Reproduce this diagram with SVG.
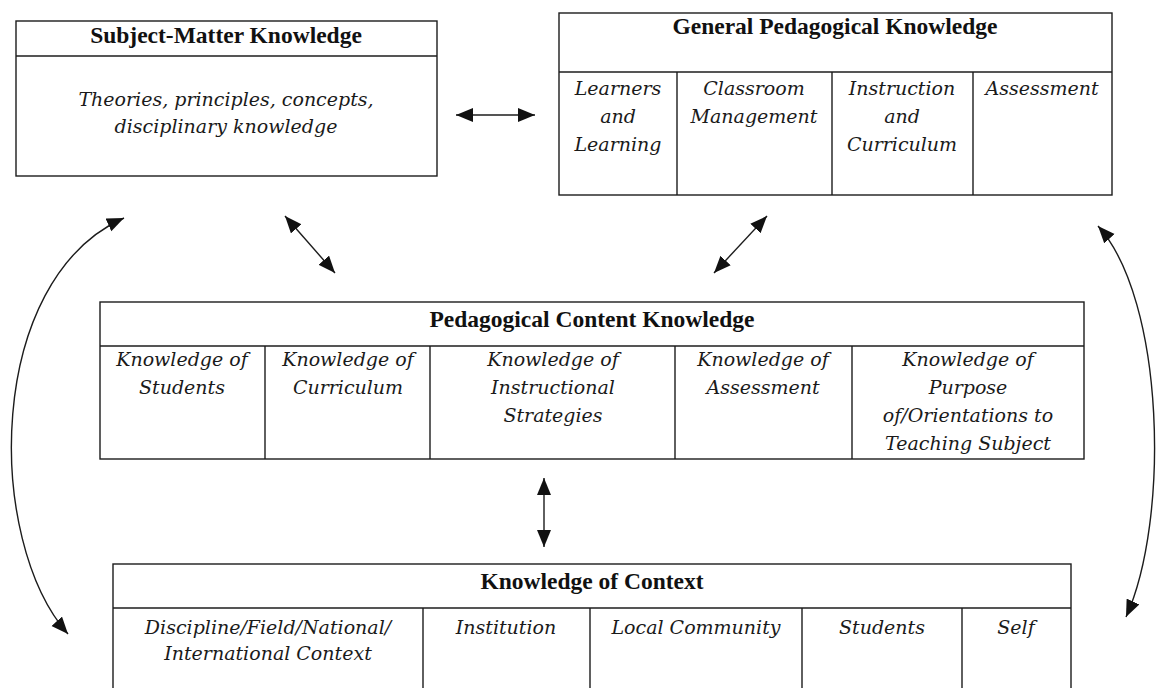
<svg xmlns="http://www.w3.org/2000/svg" width="1156" height="688" viewBox="0 0 1156 688">
  <style>
    .box { fill: #ffffff; stroke: #1c1c1c; stroke-width: 1.4; }
    .rule { stroke: #1c1c1c; stroke-width: 1.4; fill: none; }
    .title { font-family: "Liberation Serif", "Times New Roman", serif; font-weight: bold; font-size: 23.5px; fill: #111; text-anchor: middle; }
    .item { font-family: "DejaVu Serif", "Liberation Serif", serif; font-style: italic; font-size: 19px; fill: #1a1a1a; text-anchor: middle; }
    .link { stroke: #1c1c1c; stroke-width: 1.4; fill: none; marker-start: url(#head); marker-end: url(#head); }
  </style>
  <defs>
    <marker id="head" markerUnits="userSpaceOnUse" markerWidth="18" markerHeight="15" refX="17" refY="7" orient="auto-start-reverse">
      <path d="M0,0 L17,7 L0,14 Z" fill="#111"/>
    </marker>
  </defs>

  <rect width="1156" height="688" fill="#ffffff"/>

  <!-- Subject-Matter Knowledge -->
  <g id="subject-matter">
    <rect class="box" x="16" y="21" width="421" height="155"/>
    <line class="rule" x1="16" y1="56" x2="437" y2="56"/>
    <text class="title" x="226" y="43">Subject-Matter Knowledge</text>
    <text class="item" x="226" y="106">Theories, principles, concepts,</text>
    <text class="item" x="226" y="133">disciplinary knowledge</text>
  </g>

  <!-- General Pedagogical Knowledge -->
  <g id="general-pedagogical">
    <rect class="box" x="559" y="13" width="553" height="182"/>
    <line class="rule" x1="559" y1="72" x2="1112" y2="72"/>
    <line class="rule" x1="677" y1="72" x2="677" y2="195"/>
    <line class="rule" x1="832" y1="72" x2="832" y2="195"/>
    <line class="rule" x1="973" y1="72" x2="973" y2="195"/>
    <text class="title" x="835" y="34">General Pedagogical Knowledge</text>
    <text class="item" x="618" y="95">Learners</text>
    <text class="item" x="618" y="123">and</text>
    <text class="item" x="618" y="151">Learning</text>
    <text class="item" x="754" y="95">Classroom</text>
    <text class="item" x="754" y="123">Management</text>
    <text class="item" x="902" y="95">Instruction</text>
    <text class="item" x="902" y="123">and</text>
    <text class="item" x="902" y="151">Curriculum</text>
    <text class="item" x="1042" y="95">Assessment</text>
  </g>

  <!-- Pedagogical Content Knowledge -->
  <g id="pedagogical-content">
    <rect class="box" x="100" y="302" width="984" height="157"/>
    <line class="rule" x1="100" y1="346" x2="1084" y2="346"/>
    <line class="rule" x1="265" y1="346" x2="265" y2="459"/>
    <line class="rule" x1="430" y1="346" x2="430" y2="459"/>
    <line class="rule" x1="675" y1="346" x2="675" y2="459"/>
    <line class="rule" x1="852" y1="346" x2="852" y2="459"/>
    <text class="title" x="592" y="327">Pedagogical Content Knowledge</text>
    <text class="item" x="182" y="366">Knowledge of</text>
    <text class="item" x="182" y="394">Students</text>
    <text class="item" x="348" y="366">Knowledge of</text>
    <text class="item" x="348" y="394">Curriculum</text>
    <text class="item" x="553" y="366">Knowledge of</text>
    <text class="item" x="553" y="394">Instructional</text>
    <text class="item" x="553" y="422">Strategies</text>
    <text class="item" x="763" y="366">Knowledge of</text>
    <text class="item" x="763" y="394">Assessment</text>
    <text class="item" x="968" y="366">Knowledge of</text>
    <text class="item" x="968" y="394">Purpose</text>
    <text class="item" x="968" y="422">of/Orientations to</text>
    <text class="item" x="968" y="450">Teaching Subject</text>
  </g>

  <!-- Knowledge of Context (runs past the lower edge) -->
  <g id="context">
    <rect class="box" x="113" y="564" width="958" height="140"/>
    <line class="rule" x1="113" y1="608" x2="1071" y2="608"/>
    <line class="rule" x1="423" y1="608" x2="423" y2="704"/>
    <line class="rule" x1="590" y1="608" x2="590" y2="704"/>
    <line class="rule" x1="802" y1="608" x2="802" y2="704"/>
    <line class="rule" x1="962" y1="608" x2="962" y2="704"/>
    <text class="title" x="592" y="589">Knowledge of Context</text>
    <text class="item" x="268" y="634">Discipline/Field/National/</text>
    <text class="item" x="268" y="660">International Context</text>
    <text class="item" x="506" y="634">Institution</text>
    <text class="item" x="696" y="634">Local Community</text>
    <text class="item" x="882" y="634">Students</text>
    <text class="item" x="1016" y="634">Self</text>
  </g>

  <!-- Two-way links between the knowledge domains -->
  <g id="connectors">
    <line class="link" x1="456" y1="115" x2="535" y2="115"/>
    <line class="link" x1="285" y1="216" x2="335" y2="273"/>
    <line class="link" x1="767" y1="216" x2="714" y2="273"/>
    <line class="link" x1="544" y1="478" x2="544" y2="547"/>
    <path class="link" d="M68,634 C-15,540 -15,280 124,218"/>
    <path class="link" d="M1098,226 C1165,300 1170,520 1126,617"/>
  </g>
</svg>
